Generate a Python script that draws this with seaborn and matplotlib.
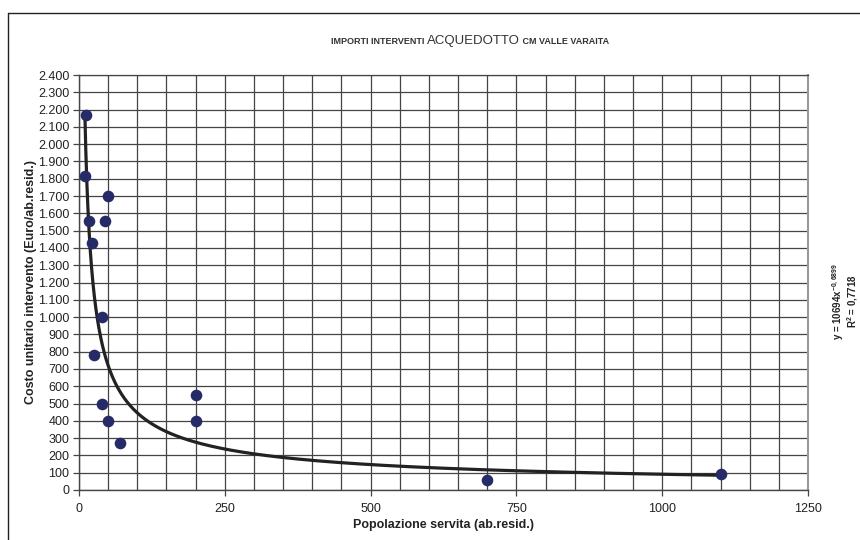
import numpy as np
import pandas as pd
import matplotlib
matplotlib.use("Agg")
import matplotlib.pyplot as plt
from matplotlib.ticker import FuncFormatter, MultipleLocator
from matplotlib.lines import Line2D
import seaborn as sns

# ---- data ----
popolazione = [12, 10, 18, 50, 45, 22, 40, 25, 40, 50, 70, 200, 200, 700, 1100]
costo = [2170, 1815, 1555, 1700, 1555, 1430, 1000, 780, 500, 400, 270, 550, 400, 55, 95]

# power trendline coefficients printed on the chart
coef_a = 10694
coef_b = -0.6899
r2_text = "0,7718"

x_ticks = [0, 250, 500, 750, 1000, 1250]
y_ticks = list(range(0, 2401, 100))

title_parts = [("IMPORTI INTERVENTI ", 6.5, "bold"), ("ACQUEDOTTO", 9.5, "normal"),
               (" CM VALLE VARAITA", 6.5, "bold")]

df = pd.DataFrame({"x": popolazione, "y": costo})
xs = np.geomspace(min(popolazione), max(popolazione), 400)
trend = pd.DataFrame({"x": xs, "y": coef_a * xs ** coef_b})

sns.set_theme(style="white")
plt.rcParams["font.family"] = ["Liberation Sans", "DejaVu Sans"]
plt.rcParams["mathtext.fontset"] = "custom"
plt.rcParams["mathtext.rm"] = "Liberation Sans"
plt.rcParams["mathtext.bf"] = "Liberation Sans:bold"

fig = plt.figure(figsize=(8.6, 5.4), dpi=100)
fig.patch.set_facecolor("white")
ax = fig.add_axes([79 / 860, 50 / 540, (808 - 79) / 860, (490 - 75) / 540])

sns.lineplot(data=trend, x="x", y="y", ax=ax, color="#222222", linewidth=2.3,
             zorder=3, estimator=None, sort=False)
sns.scatterplot(data=df, x="x", y="y", ax=ax, color="#262a66", s=70,
                edgecolor="#262a66", linewidth=0, zorder=4)

ax.set_xlim(0, 1250)
ax.set_ylim(0, 2400)
ax.set_xticks(x_ticks)
ax.xaxis.set_minor_locator(MultipleLocator(50))
ax.set_yticks(y_ticks)
ax.yaxis.set_major_formatter(FuncFormatter(lambda v, p: f"{int(v):,}".replace(",", ".")))

ax.grid(True, which="both", color="#444444", linewidth=0.9)
ax.set_axisbelow(True)
ax.tick_params(axis="both", which="major", direction="out", length=4, width=0.9,
               color="#444444", labelsize=9, labelcolor="#222222", pad=3,
               bottom=True, left=True)
ax.tick_params(axis="x", which="minor", length=0)
ax.tick_params(axis="x", pad=5)

for side in ["left", "bottom"]:
    ax.spines[side].set_color("#444444")
    ax.spines[side].set_linewidth(1.0)
ax.spines["top"].set_color("#444444")
ax.spines["top"].set_linewidth(0.9)
ax.spines["right"].set_color("#9a9a9a")
ax.spines["right"].set_linewidth(1.5)

ax.set_xlabel("Popolazione servita (ab.resid.)", fontsize=9, fontweight="bold",
              color="#222222", labelpad=3)
ax.set_ylabel("Costo unitario intervento (Euro/ab.resid.)", fontsize=9,
              fontweight="bold", color="#222222", labelpad=1)

# title with mixed sizes, centred at x=470
fig.canvas.draw()
r = fig.canvas.get_renderer()
tmp = [fig.text(0, 0, s, fontsize=fs, fontweight=fw) for s, fs, fw in title_parts]
fig.canvas.draw()
widths = [t.get_window_extent(r).width for t in tmp]
for t in tmp:
    t.remove()
x0 = 470 - sum(widths) / 2
for (s, fs, fw), w in zip(title_parts, widths):
    fig.text(x0 / 860, 1 - 44 / 540, s, fontsize=fs, fontweight=fw, color="#333333",
             ha="left", va="baseline")
    x0 += w

# trendline equation, rotated
fig.text(838 / 860, 1 - 301 / 540, r"y = 10694x$^{\mathbf{-0,6899}}$", rotation=90,
         fontsize=7, fontweight="bold", color="#222222", ha="center", va="center")
fig.text(853 / 860, 1 - 301 / 540, r"R$^{\mathbf{2}}$ = " + r2_text, rotation=90,
         fontsize=7, fontweight="bold", color="#222222", ha="center", va="center")

# chart area border (top and left visible)
fig.add_artist(Line2D([8 / 860, 8 / 860], [0, 1 - 13 / 540], transform=fig.transFigure,
                      color="#222222", linewidth=1.0))
fig.add_artist(Line2D([8 / 860, 1], [1 - 13 / 540, 1 - 13 / 540], transform=fig.transFigure,
                      color="#222222", linewidth=1.0))

fig.savefig("out.png", dpi=100, facecolor="white")
